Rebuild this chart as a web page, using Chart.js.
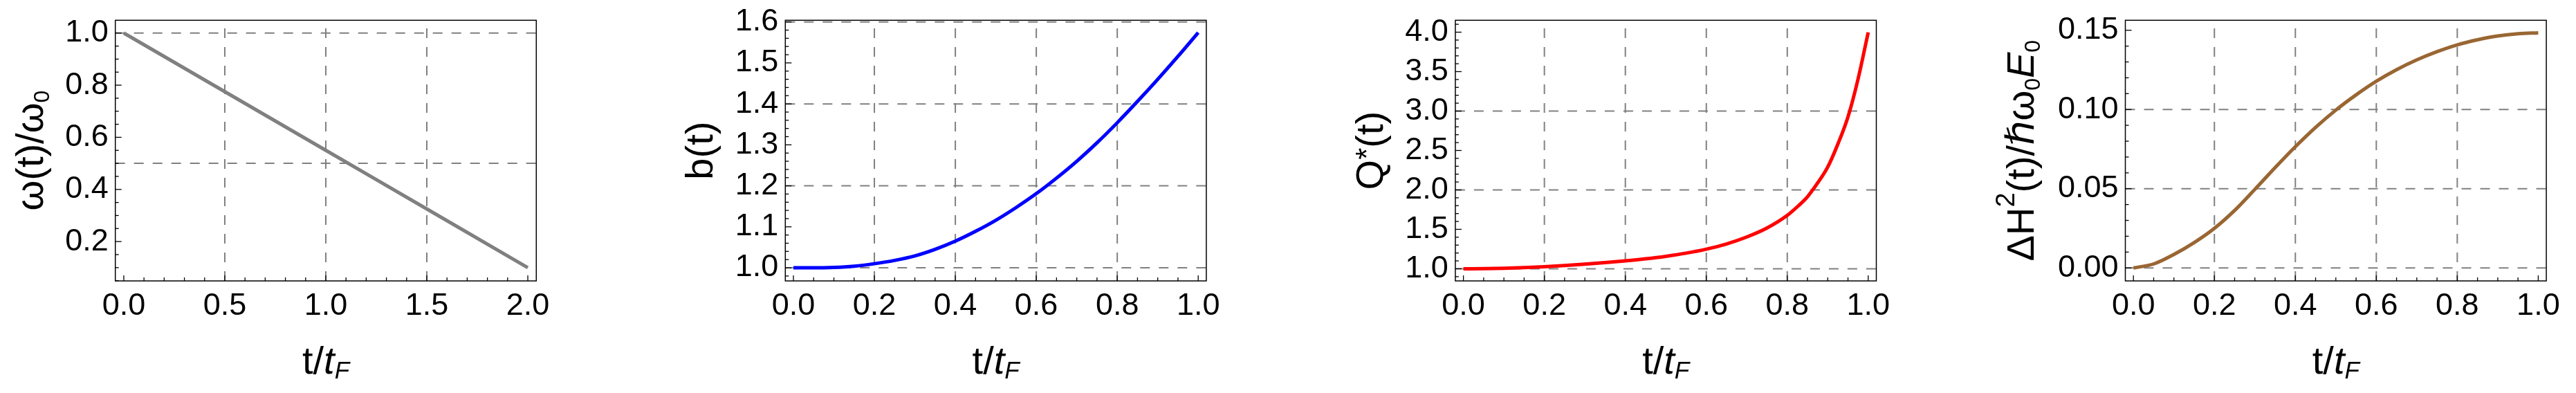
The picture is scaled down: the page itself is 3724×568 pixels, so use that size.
<!DOCTYPE html>
<html>
<head>
<meta charset="utf-8">
<script src="https://cdn.jsdelivr.net/npm/chart.js@4.4.1/dist/chart.umd.min.js"></script>
<style>
  html, body { margin: 0; padding: 0; background: #fff; overflow: hidden; }
  #wrap { position: relative; width: 3724px; height: 568px; }
  canvas { position: absolute; top: 0; }
</style>
</head>
<body>
<div id="wrap">
  <canvas id="c1" width="930" height="568" style="left:0px"></canvas>
  <canvas id="c2" width="930" height="568" style="left:930px"></canvas>
  <canvas id="c3" width="930" height="568" style="left:1860px"></canvas>
  <canvas id="c4" width="934" height="568" style="left:2790px"></canvas>
</div>
<script>
// ---- data ----
const tOmega = [0, 0.5, 1.0, 1.5, 2.0];
const omegaRatio = [1.0, 0.775, 0.55, 0.325, 0.1];

const tUnit = [0, 0.05, 0.1, 0.15, 0.2, 0.25, 0.3, 0.35, 0.4, 0.45, 0.5,
               0.55, 0.6, 0.65, 0.7, 0.75, 0.8, 0.85, 0.9, 0.95, 1.0];
const bValues = [1.000, 1.000, 1.001, 1.004, 1.010, 1.018, 1.029, 1.045, 1.065, 1.089, 1.116,
                 1.147, 1.181, 1.219, 1.260, 1.305, 1.354, 1.406, 1.460, 1.516, 1.574];

const tQ = [0, 0.05, 0.1, 0.15, 0.2, 0.25, 0.3, 0.35, 0.4, 0.45, 0.5, 0.55, 0.6, 0.65,
            0.7, 0.75, 0.8, 0.825, 0.85, 0.875, 0.9, 0.925, 0.95, 0.975, 1.0];
const qValues = [1.000, 1.002, 1.007, 1.015, 1.026, 1.041, 1.058, 1.078, 1.100, 1.126, 1.158, 1.198, 1.249, 1.315,
                 1.403, 1.517, 1.677, 1.787, 1.914, 2.088, 2.290, 2.581, 2.925, 3.408, 3.998];

const dhValues = [0.0000, 0.0025, 0.0085, 0.0160, 0.0250, 0.0363, 0.0496, 0.0633, 0.0765, 0.0887, 0.0996,
                  0.1092, 0.1178, 0.1251, 0.1313, 0.1365, 0.1408, 0.1440, 0.1464, 0.1478, 0.1484];

// tick labels
const xLabels1 = [0, 0.5, 1.0, 1.5, 2.0];
const xLabelsUnit = [0, 0.2, 0.4, 0.6, 0.8, 1.0];
const yLabels1 = [0.2, 0.4, 0.6, 0.8, 1.0];
const yLabels2 = [1.0, 1.1, 1.2, 1.3, 1.4, 1.5, 1.6];
const yLabels3 = [1.0, 1.5, 2.0, 2.5, 3.0, 3.5, 4.0];
const yLabels4 = [0, 0.05, 0.10, 0.15];

// dashed grid lines
const gridX1 = [0.5, 1.0, 1.5];
const gridXUnit = [0.2, 0.4, 0.6, 0.8];
const gridY1 = [0.5, 1.0];
const gridY2 = [1.0, 1.2, 1.4, 1.6];
const gridY3 = [1.0, 2.0, 3.0];
const gridY4 = [0, 0.05, 0.10];

const FONT = '"Liberation Sans", Arial, "DejaVu Sans", sans-serif';

function fontOf(p) {
  return (p.italic ? 'italic ' : '') + (p.size || 56) + 'px ' + FONT;
}

function richText(ctx, parts, cx, baseline, angle) {
  ctx.save();
  ctx.translate(cx, baseline);
  if (angle) ctx.rotate(angle);
  ctx.fillStyle = '#000';
  ctx.textAlign = 'left';
  ctx.textBaseline = 'alphabetic';
  let total = 0;
  parts.forEach(p => { ctx.font = fontOf(p); p.w = ctx.measureText(p.text).width; total += p.w; });
  let pos = -total / 2;
  parts.forEach(p => { ctx.font = fontOf(p); ctx.fillText(p.text, pos, p.dy || 0); pos += p.w; });
  ctx.restore();
}

function seg(ctx, x1, y1, x2, y2) {
  ctx.beginPath(); ctx.moveTo(x1, y1); ctx.lineTo(x2, y2); ctx.stroke();
}

// grid, frame, inward ticks and the axis titles in Mathematica style
const mmaFrame = {
  id: 'mmaFrame',
  beforeDatasetsDraw(chart, args, o) {
    const { ctx, chartArea: a, scales: { x, y } } = chart;
    ctx.save();
    ctx.strokeStyle = '#808080';
    ctx.lineWidth = 2;
    ctx.setLineDash([14, 13]);
    o.gridX.forEach(v => { const px = x.getPixelForValue(v); seg(ctx, px, a.bottom, px, a.top); });
    o.gridY.forEach(v => { const py = y.getPixelForValue(v); seg(ctx, a.left, py, a.right, py); });
    ctx.restore();
  },
  afterDraw(chart, args, o) {
    const { ctx, chartArea: a, scales: { x, y } } = chart;
    ctx.save();
    ctx.strokeStyle = '#000';
    ctx.lineWidth = 1.5;
    ctx.strokeRect(a.left, a.top, a.right - a.left, a.bottom - a.top);
    ctx.lineWidth = 1.3;
    const isMajor = (v, list) => list.some(m => Math.abs(m - v) < 1e-6);
    for (let v = o.xMinor[0]; v <= x.max + 1e-9; v += o.xMinor[1]) {
      if (v < x.min) continue;
      const px = x.getPixelForValue(v);
      const len = isMajor(v, o.xMajor) ? 8 : 5;
      seg(ctx, px, a.bottom, px, a.bottom - len);
    }
    for (let v = o.yMinor[0]; v <= y.max + 1e-9; v += o.yMinor[1]) {
      if (v < y.min) continue;
      const py = y.getPixelForValue(v);
      const len = isMajor(v, o.yMajor) ? 9 : 5;
      seg(ctx, a.left, py, a.left + len, py);
    }
    ctx.restore();

    const cx = (a.left + a.right) / 2;
    richText(ctx, o.xTitle, cx, 540, 0);
    richText(ctx, o.yTitle, a.left - o.yTitleGap, (a.top + a.bottom) / 2, -Math.PI / 2);
  }
};

const xTitle = () => [{ text: 't/' }, { text: 't', italic: true }, { text: 'F', italic: true, size: 35, dy: 7 }];

function makePanel(id, p) {
  const tickFont = { family: FONT, size: 45, lineHeight: 1.2 };
  new Chart(document.getElementById(id), {
    type: 'line',
    data: {
      datasets: [{
        data: p.xs.map((t, i) => ({ x: t, y: p.ys[i] })),
        borderColor: p.color,
        borderWidth: 5,
        pointRadius: 0,
        cubicInterpolationMode: 'monotone',
        fill: false
      }]
    },
    plugins: [mmaFrame],
    options: {
      responsive: false,
      animation: false,
      events: [],
      layout: { autoPadding: false, padding: { top: 29.3, bottom: 0, left: 0, right: p.padRight } },
      plugins: {
        legend: { display: false },
        tooltip: { enabled: false },
        mmaFrame: {
          gridX: p.gridX, gridY: p.gridY,
          xMinor: p.xMinor, yMinor: p.yMinor,
          xMajor: p.xLabels, yMajor: p.yLabels,
          xTitle: xTitle(), yTitle: p.yTitle, yTitleGap: p.yTitleGap
        }
      },
      scales: {
        x: {
          type: 'linear', bounds: 'data', min: p.xMin, max: p.xMax,
          afterBuildTicks: s => { s.ticks = p.xLabels.map(v => ({ value: v })); },
          afterFit: s => { s.height = 162; s.paddingLeft = 0; s.paddingRight = 0; },
          grid: { display: false, drawTicks: false },
          border: { display: false },
          ticks: { padding: 10, color: '#000', font: tickFont, maxRotation: 0, autoSkip: false,
                   callback: v => v.toFixed(1) }
        },
        y: {
          type: 'linear', bounds: 'data', min: p.yMin, max: p.yMax,
          afterBuildTicks: s => { s.ticks = p.yLabels.map(v => ({ value: v })); },
          afterFit: s => { s.width = p.axisW; s.paddingTop = 0; s.paddingBottom = 0; },
          grid: { display: false, drawTicks: false },
          border: { display: false },
          ticks: { padding: 10, color: '#000', font: tickFont, autoSkip: false,
                   callback: v => v.toFixed(p.yDigits) }
        }
      }
    }
  });
}

makePanel('c1', {
  xs: tOmega, ys: omegaRatio, color: '#808080',
  xMin: -0.042, xMax: 2.042, yMin: 0.049, yMax: 1.049,
  xLabels: xLabels1, yLabels: yLabels1, yDigits: 1,
  xMinor: [0, 0.1], yMinor: [0.05, 0.05],
  gridX: gridX1, gridY: gridY1,
  axisW: 166.7, padRight: 930 - 166.7 - 608.6,
  yTitleGap: 105,
  yTitle: [{ text: 'ω(t)/ω' }, { text: '0', size: 32, dy: 9 }]
});

makePanel('c2', {
  xs: tUnit, ys: bValues, color: '#0000ff',
  xMin: -0.02, xMax: 1.02, yMin: 0.968, yMax: 1.604,
  xLabels: xLabelsUnit, yLabels: yLabels2, yDigits: 1,
  xMinor: [0, 0.05], yMinor: [0.98, 0.02],
  gridX: gridXUnit, gridY: gridY2,
  axisW: 205.3, padRight: 930 - 205.3 - 608.6,
  yTitleGap: 105,
  yTitle: [{ text: 'b(t)' }]
});

makePanel('c3', {
  xs: tQ, ys: qValues, color: '#ff0000',
  xMin: -0.02, xMax: 1.02, yMin: 0.846, yMax: 4.151,
  xLabels: xLabelsUnit, yLabels: yLabels3, yDigits: 1,
  xMinor: [0, 0.05], yMinor: [0.9, 0.1],
  gridX: gridXUnit, gridY: gridY3,
  axisW: 243.9, padRight: 930 - 243.9 - 608.6,
  yTitleGap: 105,
  yTitle: [{ text: 'Q' }, { text: '*', size: 44, dy: -8 }, { text: '(t)' }]
});

makePanel('c4', {
  xs: tUnit, ys: dhValues, color: '#996633',
  xMin: -0.02, xMax: 1.02, yMin: -0.0082, yMax: 0.1563,
  xLabels: xLabelsUnit, yLabels: yLabels4, yDigits: 2,
  xMinor: [0, 0.05], yMinor: [0, 0.01],
  gridX: gridXUnit, gridY: gridY4,
  axisW: 282.5, padRight: 934 - 282.5 - 608.6,
  yTitleGap: 132.5,
  yTitle: [{ text: 'ΔH' }, { text: '2', size: 38, dy: -28 }, { text: '(t)/' }, { text: 'ℏ', italic: true },
           { text: 'ω' }, { text: '0', size: 32, dy: 9 }, { text: 'E', italic: true }, { text: '0', size: 32, dy: 9 }]
});
</script>
</body>
</html>
